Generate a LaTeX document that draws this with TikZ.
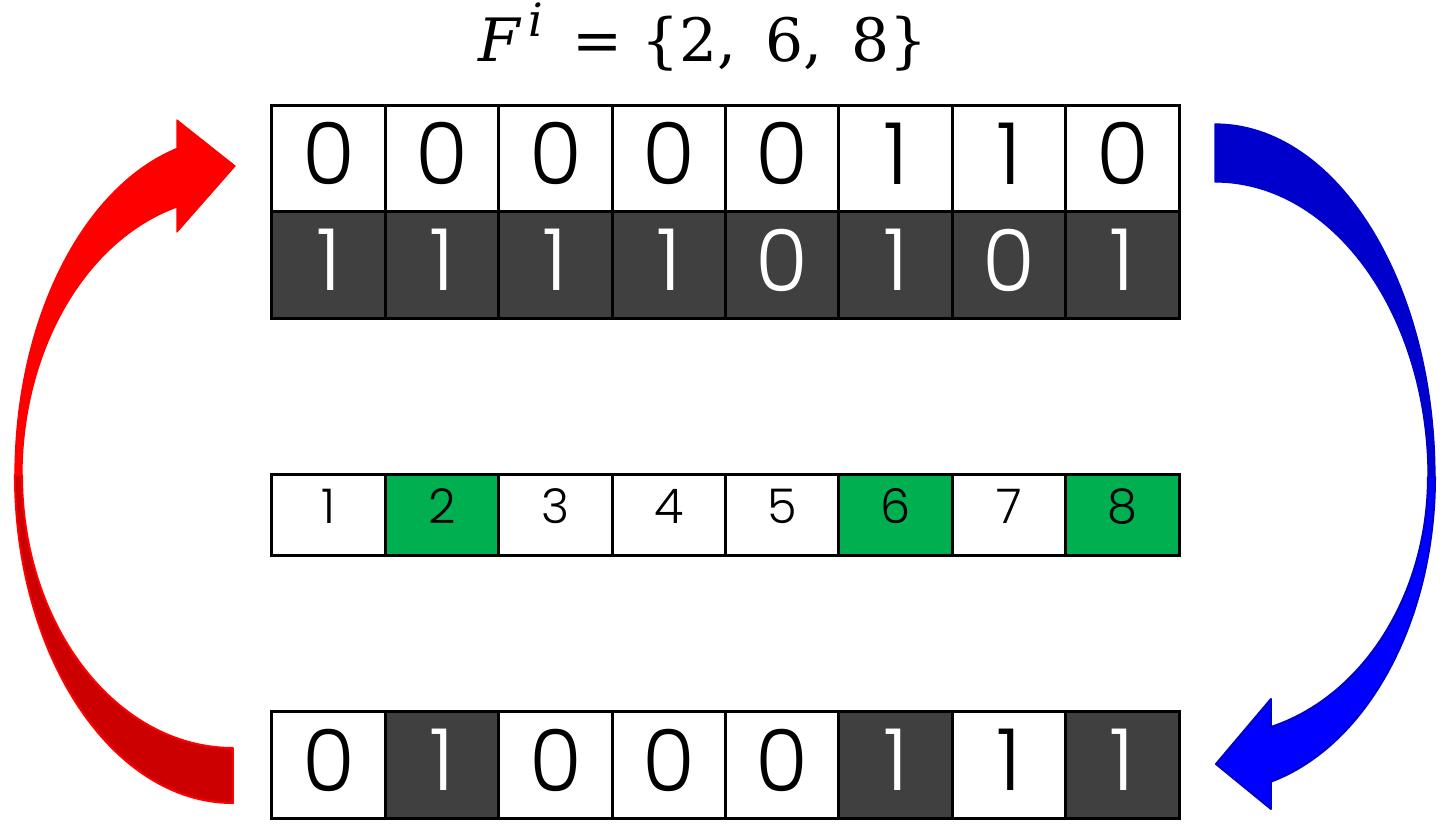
\documentclass[tikz,border=0pt]{standalone}
\usepackage{fontspec}
\setmainfont{Poppins}[UprightFont=* Light]
\newfontfamily\titlefont{DejaVu Serif}
\definecolor{cellgray}{HTML}{404040}
\definecolor{cellgreen}{HTML}{00B050}
\definecolor{redback}{HTML}{CC0000}
\definecolor{blueback}{HTML}{0000CC}

\begin{document}
\begin{tikzpicture}[
	cell/.style={draw, line width=1.5pt, minimum width=2cm, minimum height=1.88cm,
		inner sep=0pt, outer sep=0pt, text depth=0.18cm,
		font=\fontsize{43}{43}\selectfont},
	wcell/.style={cell, fill=white, text=black},
	dcell/.style={cell, fill=cellgray, text=white},
	icell/.style={cell, minimum height=1.43cm, text depth=0.3cm,
		font=\fontsize{24}{24}\selectfont, fill=white},
	gcell/.style={icell, fill=cellgreen}]
\useasboundingbox (0,0) rectangle (25.503,14.621);
%\draw[style=help lines] (0,0) grid (25,14);

\node[anchor=base] (title) at (12.4,13.53)
	{\titlefont\fontsize{30}{36}\selectfont\textit{F}\kern0.12em\raisebox{0.42em}{\fontsize{23}{23}\selectfont\textit{i}}\, = \{2,\, 6,\, 8\}};

% flags
\node[wcell] (f1) at (5.797,11.825) {0};
\node[wcell] (f2) at (7.797,11.825) {0};
\node[wcell] (f3) at (9.797,11.825) {0};
\node[wcell] (f4) at (11.797,11.825) {0};
\node[wcell] (f5) at (13.797,11.825) {0};
\node[wcell] (f6) at (15.797,11.825) {1};
\node[wcell] (f7) at (17.797,11.825) {1};
\node[wcell] (f8) at (19.797,11.825) {0};

\node[dcell] (m1) at (5.797,9.945) {1};
\node[dcell] (m2) at (7.797,9.945) {1};
\node[dcell] (m3) at (9.797,9.945) {1};
\node[dcell] (m4) at (11.797,9.945) {1};
\node[dcell] (m5) at (13.797,9.945) {0};
\node[dcell] (m6) at (15.797,9.945) {1};
\node[dcell] (m7) at (17.797,9.945) {0};
\node[dcell] (m8) at (19.797,9.945) {1};

% index row
\node[icell] (i1) at (5.797,5.545) {1};
\node[gcell] (i2) at (7.797,5.545) {2};
\node[icell] (i3) at (9.797,5.545) {3};
\node[icell] (i4) at (11.797,5.545) {4};
\node[icell] (i5) at (13.797,5.545) {5};
\node[gcell] (i6) at (15.797,5.545) {6};
\node[icell] (i7) at (17.797,5.545) {7};
\node[gcell] (i8) at (19.797,5.545) {8};

% result
\node[wcell] (r1) at (5.797,1.125) {0};
\node[dcell] (r2) at (7.797,1.125) {1};
\node[wcell] (r3) at (9.797,1.125) {0};
\node[wcell] (r4) at (11.797,1.125) {0};
\node[wcell] (r5) at (13.797,1.125) {0};
\node[dcell] (r6) at (15.797,1.125) {1};
\node[wcell] (r7) at (17.797,1.125) {1};
\node[dcell] (r8) at (19.797,1.125) {1};

% red arrow, back part
\filldraw[fill=redback, draw=red, line width=1pt, line join=round]
	(0.264,6.243) arc[start angle=180, end angle=270, x radius=3.845, y radius=5.785]
	-- (4.109,1.4286) arc[start angle=270, end angle=180, x radius=3.721, y radius=4.814] -- cycle;
% red arrow, front part
\filldraw[fill=red, draw=red, line width=0.6pt, line join=round]
	(0.264,6.243) arc[start angle=180, end angle=104.87, x radius=3.845, y radius=5.96]
	-- (3.122,12.504) -- (4.145,11.693) -- (3.122,10.529)
	-- (3.122,10.97) arc[start angle=105.38, end angle=180, x radius=3.721, y radius=4.903] -- cycle;

% blue arrow, back part
\filldraw[fill=blueback, draw=blueback, line width=0.6pt, line join=round]
	(21.429,12.434) arc[start angle=90, end angle=0, x radius=3.88, y radius=6.226]
	-- (25.186,6.208) arc[start angle=0, end angle=90, x radius=3.757, y radius=5.203] -- cycle;
% blue arrow, front part
\filldraw[fill=blue, draw=blueback, line width=1pt, line join=round]
	(25.309,6.208) arc[start angle=0, end angle=-75.26, x radius=3.88, y radius=5.556]
	-- (22.416,0.353) -- (21.446,1.146) -- (22.416,2.293)
	-- (22.416,1.799) arc[start angle=-74.75, end angle=0, x radius=3.757, y radius=4.568] -- cycle;

\end{tikzpicture}
\end{document}
